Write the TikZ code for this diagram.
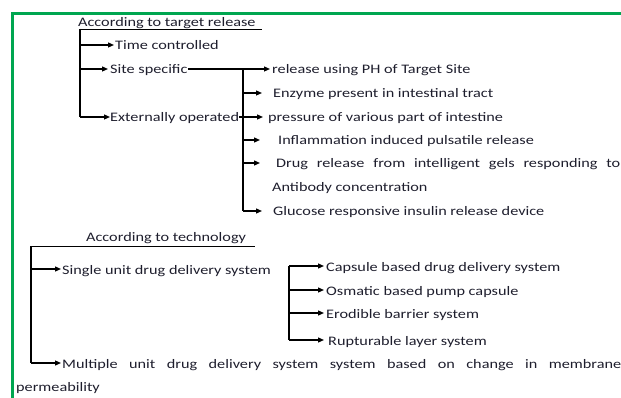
\documentclass[tikz,border=0pt]{standalone}
\usepackage{fontspec}
\setmainfont{Carlito}[FakeStretch=1.25]
\usetikzlibrary{arrows.meta}
\definecolor{brd}{RGB}{0,166,80}
\definecolor{txt}{RGB}{30,30,45}
\tikzset{
 lbl/.style={anchor=west, inner sep=0pt, text height=11pt, text depth=1pt, font=\fontsize{13}{15}\selectfont, text=txt},
 arr/.style={line width=1.2pt, -{Triangle[length=6pt,width=5pt]}},
 ln/.style={line width=1.2pt},
 hline/.style={line width=0.9pt}
}
\begin{document}
\begin{tikzpicture}[x=1pt,y=-1pt]
\useasboundingbox (0,0) rectangle (621,398);
\draw[brd, line width=3pt] (12,398) -- (12,14) -- (621,14);
% section 1
\node[lbl] (h1) at (78,22) {According to target release};
\coordinate (h1l) at (80,29);
\coordinate (h1r) at (262,29);
\coordinate (s1b) at (80,117);
\draw[hline] (h1l) -- (h1r);
\draw[ln] (h1l) -- (s1b);
\node[lbl] (tc) at (115,45) {Time controlled};
\node[lbl] (ss) at (110,69) {Site specific};
\node[lbl] (eo) at (110,117) {Externally operated};
\draw[arr] (h1l |- tc.west) -- ([xshift=-1pt]tc.west);
\draw[arr] (h1l |- ss.west) -- ([xshift=-2pt]ss.west);
\draw[arr] (s1b) -- (eo.west);
% branch
\coordinate (s2t) at (243,69);
\coordinate (s2b) at (243,211);
\draw[ln] (s2t) -- (s2b);
\node[lbl] (rel) at (272,69) {release using PH of Target Site};
\node[lbl] (enz) at (273,93) {Enzyme present in intestinal tract};
\node[lbl] (prs) at (268,117) {pressure of various part of intestine};
\node[lbl] (inf) at (278,140) {Inflammation induced pulsatile release};
\node[lbl] (drg) at (276,163) {\makebox[344pt][s]{Drug release from intelligent gels responding to}};
\node[lbl] (ab) at (272,187) {Antibody concentration};
\node[lbl] (glu) at (273,211) {Glucose responsive insulin release device};
\draw[arr] (ss.east) -- ([xshift=-2pt]rel.west);
\draw[ln] (eo.east) -- (s2t |- eo.east);
\draw[arr] (s2t |- enz.west) -- ([xshift=-11pt]enz.west);
\draw[arr] (s2t |- prs.west) -- ([xshift=-5pt]prs.west);
\draw[arr] (s2t |- inf.west) -- ([xshift=-18pt]inf.west);
\draw[arr] (s2t |- drg.west) -- ([xshift=-16pt]drg.west);
\draw[arr] (s2b) -- ([xshift=-11pt]glu.west);
% section 2
\node[lbl] (h2) at (86,236) {According to technology};
\coordinate (h2l) at (31,246);
\coordinate (h2r) at (255,246);
\coordinate (s3b) at (31,363);
\draw[hline] (h2l) -- (h2r);
\draw[ln] (h2l) -- (s3b);
\node[lbl] (su) at (62,269) {Single unit drug delivery system};
\node[lbl] (mu) at (62,363) {\makebox[559pt][s]{Multiple unit drug delivery system system based on change in membrane}};
\node[lbl] (perm) at (16,386) {permeability};
\draw[arr] (h2l |- su.west) -- ([xshift=-1pt]su.west);
\draw[arr] (s3b) -- ([xshift=-1pt]mu.west);
% bracket
\coordinate (s4t) at (289,266);
\coordinate (s4b) at (289,340);
\draw[ln] (s4t) -- (s4b);
\node[lbl] (cap) at (326,266) {Capsule based drug delivery system};
\node[lbl] (osm) at (326,290) {Osmatic based pump capsule};
\node[lbl] (ero) at (326,313) {Erodible barrier system};
\node[lbl] (rup) at (328,340) {Rupturable layer system};
\draw[arr] (s4t) -- ([xshift=-2pt]cap.west);
\draw[arr] (s4t |- osm.west) -- ([xshift=-2pt]osm.west);
\draw[arr] (s4t |- ero.west) -- ([xshift=-2pt]ero.west);
\draw[arr] (s4b) -- ([xshift=-4pt]rup.west);
\end{tikzpicture}
\end{document}
